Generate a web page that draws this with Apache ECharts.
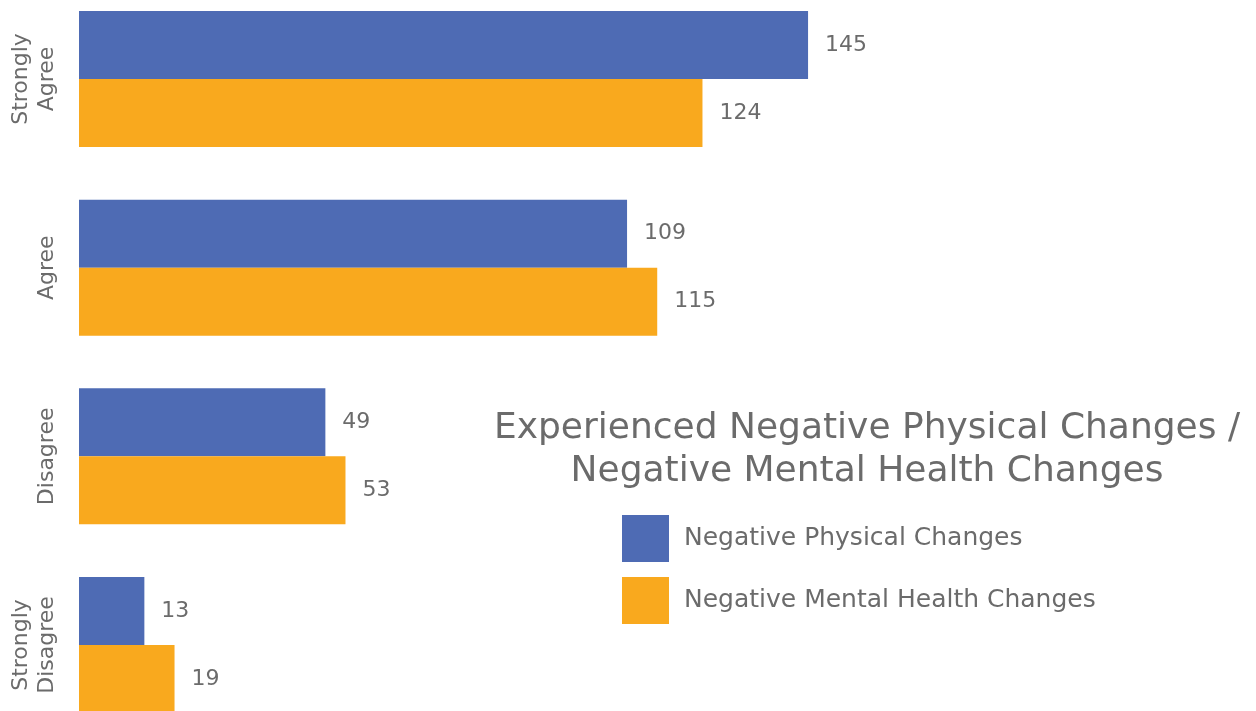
<!DOCTYPE html>
<html>
<head>
<meta charset="utf-8">
<script src="https://cdn.jsdelivr.net/npm/echarts@6/dist/echarts.min.js"></script>
<style>
  html, body { margin: 0; padding: 0; background: #ffffff; }
  #chart { width: 1256px; height: 711px; }
</style>
</head>
<body>
<div id="chart"></div>
<script>
// Survey responses, top to bottom
const categories = ['Strongly\nAgree', 'Agree', 'Disagree', 'Strongly\nDisagree'];
const physicalChanges = [145, 109, 49, 13];
const mentalHealthChanges = [124, 115, 53, 19];
const seriesNames = ['Negative Physical Changes', 'Negative Mental Health Changes'];
const chartTitle = 'Experienced Negative Physical Changes /\nNegative Mental Health Changes';

const FONT = '"DejaVu Sans", "Open Sans", sans-serif';
const TEXT = '#6b6b6b';
const BLUE = '#4e6bb4';
const ORANGE = '#f9a91e';

const chart = echarts.init(document.getElementById('chart'), null, { renderer: 'canvas' });

const valueLabel = {
  show: true,
  position: 'right',
  distance: 17,
  color: TEXT,
  fontFamily: FONT,
  fontSize: 22
};

chart.setOption({
  animation: false,
  backgroundColor: '#ffffff',
  title: {
    text: chartTitle,
    left: 867,
    top: 407,
    padding: 0,
    textAlign: 'center',
    textStyle: {
      color: TEXT,
      fontFamily: FONT,
      fontWeight: 'normal',
      fontSize: 36,
      lineHeight: 43
    }
  },
  legend: {
    orient: 'vertical',
    left: 622,
    top: 515,
    padding: 0,
    itemWidth: 47,
    itemHeight: 47,
    itemGap: 15,
    icon: 'rect',
    data: seriesNames,
    textStyle: {
      color: TEXT,
      fontFamily: FONT,
      fontSize: 25,
      padding: [3, 0, 0, 10]
    }
  },
  // category centres sit on the grid edges (boundaryGap off)
  grid: {
    left: 79,
    width: 1005.6,
    top: 79,
    bottom: 66,
    containLabel: false
  },
  xAxis: {
    type: 'value',
    min: 0,
    max: 200,
    show: false
  },
  yAxis: {
    type: 'category',
    inverse: true,
    boundaryGap: false,
    data: categories,
    axisLine: { show: false },
    axisTick: { show: false },
    axisLabel: {
      rotate: 90,
      margin: 19,
      color: TEXT,
      fontFamily: FONT,
      fontSize: 22,
      lineHeight: 26,
      align: 'center',
      verticalAlign: 'bottom'
    }
  },
  series: [
    {
      name: seriesNames[0],
      type: 'bar',
      data: physicalChanges,
      barWidth: 68,
      barGap: '0%',
      itemStyle: { color: BLUE },
      label: valueLabel
    },
    {
      name: seriesNames[1],
      type: 'bar',
      data: mentalHealthChanges,
      barWidth: 68,
      barGap: '0%',
      itemStyle: { color: ORANGE },
      label: valueLabel
    }
  ]
});
</script>
</body>
</html>
